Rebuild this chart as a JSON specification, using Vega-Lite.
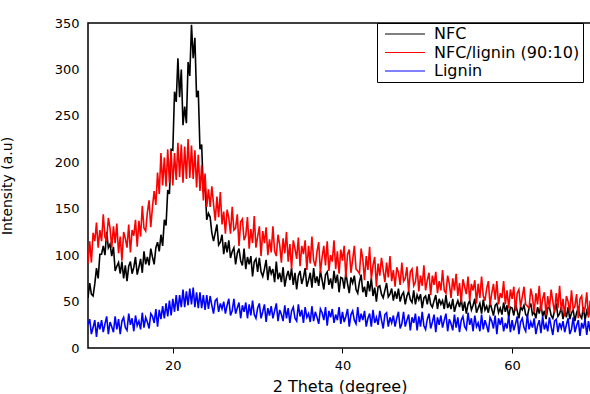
{
"$schema":"https://vega.github.io/schema/vega-lite/v6.json",
"width":503,"height":325,
"autosize":"none",
"padding":{"left":88,"top":23,"right":0,"bottom":46},
"config":{"view":{"stroke":"black","strokeWidth":1.5},"font":"DejaVu Sans"},
"data":{"values":[
{"t":10.0,"a":54,"b":91,"c":25},{"t":10.2,"a":70,"b":115,"c":31},{"t":10.4,"a":58,"b":92,"c":15},{"t":10.6,"a":56,"b":124,"c":22},{"t":10.8,"a":69,"b":115,"c":30},
{"t":11.0,"a":86,"b":135,"c":12},{"t":11.2,"a":75,"b":108,"c":28},{"t":11.4,"a":101,"b":127,"c":20},{"t":11.6,"a":101,"b":115,"c":30},{"t":11.8,"a":110,"b":144,"c":17},
{"t":12.0,"a":100,"b":119,"c":26},{"t":12.2,"a":125,"b":116,"c":34},{"t":12.4,"a":108,"b":140,"c":15},{"t":12.6,"a":112,"b":129,"c":28},{"t":12.8,"a":99,"b":108,"c":23},
{"t":13.0,"a":109,"b":131,"c":17},{"t":13.2,"a":83,"b":113,"c":34},{"t":13.4,"a":88,"b":134,"c":20},{"t":13.6,"a":92,"b":102,"c":31},{"t":13.8,"a":80,"b":120,"c":15},
{"t":14.0,"a":93,"b":94,"c":29},{"t":14.2,"a":75,"b":125,"c":33},{"t":14.4,"a":89,"b":118,"c":22},{"t":14.6,"a":72,"b":108,"c":19},{"t":14.8,"a":88,"b":133,"c":37},
{"t":15.0,"a":93,"b":103,"c":25},{"t":15.2,"a":80,"b":127,"c":32},{"t":15.4,"a":87,"b":121,"c":18},{"t":15.6,"a":98,"b":138,"c":35},{"t":15.8,"a":79,"b":109,"c":24},
{"t":16.0,"a":87,"b":137,"c":29},{"t":16.2,"a":96,"b":120,"c":20},{"t":16.4,"a":81,"b":153,"c":38},{"t":16.6,"a":104,"b":129,"c":22},{"t":16.8,"a":90,"b":126,"c":33},
{"t":17.0,"a":98,"b":146,"c":28},{"t":17.2,"a":89,"b":159,"c":21},{"t":17.4,"a":107,"b":130,"c":37},{"t":17.6,"a":98,"b":152,"c":34},{"t":17.8,"a":90,"b":169,"c":27},
{"t":18.0,"a":108,"b":154,"c":42},{"t":18.2,"a":114,"b":189,"c":23},{"t":18.4,"a":104,"b":166,"c":41},{"t":18.6,"a":122,"b":210,"c":31},{"t":18.8,"a":110,"b":175,"c":45},
{"t":19.0,"a":138,"b":205,"c":32},{"t":19.2,"a":132,"b":174,"c":48},{"t":19.4,"a":170,"b":214,"c":34},{"t":19.6,"a":166,"b":178,"c":51},{"t":19.8,"a":214,"b":212,"c":35},
{"t":20.0,"a":213,"b":175,"c":53},{"t":20.2,"a":276,"b":210,"c":39},{"t":20.4,"a":265,"b":181,"c":57},{"t":20.6,"a":312,"b":221,"c":40},{"t":20.8,"a":270,"b":184,"c":57},
{"t":21.0,"a":300,"b":219,"c":44},{"t":21.2,"a":240,"b":178,"c":63},{"t":21.4,"a":260,"b":217,"c":44},{"t":21.6,"a":242,"b":182,"c":61},{"t":21.8,"a":308,"b":225,"c":46},
{"t":22.0,"a":293,"b":183,"c":64},{"t":22.2,"a":348,"b":218,"c":47},{"t":22.4,"a":312,"b":182,"c":65},{"t":22.6,"a":334,"b":213,"c":44},{"t":22.8,"a":270,"b":173,"c":60},
{"t":23.0,"a":277,"b":208,"c":43},{"t":23.2,"a":214,"b":169,"c":60},{"t":23.4,"a":219,"b":197,"c":43},{"t":23.6,"a":168,"b":159,"c":57},{"t":23.8,"a":175,"b":188,"c":41},
{"t":24.0,"a":138,"b":152,"c":57},{"t":24.2,"a":145,"b":171,"c":42},{"t":24.4,"a":141,"b":152,"c":56},{"t":24.6,"a":124,"b":174,"c":46},{"t":24.8,"a":115,"b":155,"c":37},
{"t":25.0,"a":124,"b":137,"c":51},{"t":25.2,"a":133,"b":163,"c":53},{"t":25.4,"a":111,"b":141,"c":39},{"t":25.6,"a":114,"b":168,"c":48},{"t":25.8,"a":122,"b":133,"c":42},
{"t":26.0,"a":101,"b":147,"c":50},{"t":26.2,"a":114,"b":123,"c":37},{"t":26.4,"a":103,"b":149,"c":46},{"t":26.6,"a":116,"b":140,"c":53},{"t":26.8,"a":97,"b":123,"c":35},
{"t":27.0,"a":104,"b":152,"c":40},{"t":27.2,"a":108,"b":127,"c":53},{"t":27.4,"a":90,"b":129,"c":37},{"t":27.6,"a":102,"b":144,"c":43},{"t":27.8,"a":107,"b":110,"c":49},
{"t":28.0,"a":94,"b":136,"c":32},{"t":28.2,"a":89,"b":139,"c":46},{"t":28.4,"a":107,"b":116,"c":39},{"t":28.6,"a":85,"b":121,"c":49},{"t":28.8,"a":98,"b":141,"c":32},
{"t":29.0,"a":90,"b":107,"c":47},{"t":29.2,"a":99,"b":128,"c":35},{"t":29.4,"a":77,"b":113,"c":51},{"t":29.6,"a":93,"b":142,"c":36},{"t":29.8,"a":96,"b":108,"c":32},
{"t":30.0,"a":82,"b":120,"c":43},{"t":30.2,"a":97,"b":131,"c":48},{"t":30.4,"a":82,"b":99,"c":32},{"t":30.6,"a":77,"b":126,"c":39},{"t":30.8,"a":85,"b":113,"c":47},
{"t":31.0,"a":95,"b":130,"c":28},{"t":31.2,"a":73,"b":100,"c":43},{"t":31.4,"a":88,"b":117,"c":35},{"t":31.6,"a":80,"b":103,"c":45},{"t":31.8,"a":85,"b":131,"c":32},
{"t":32.0,"a":71,"b":104,"c":40},{"t":32.2,"a":93,"b":99,"c":48},{"t":32.4,"a":74,"b":122,"c":29},{"t":32.6,"a":81,"b":111,"c":41},{"t":32.8,"a":71,"b":92,"c":36},
{"t":33.0,"a":87,"b":118,"c":29},{"t":33.2,"a":66,"b":102,"c":46},{"t":33.4,"a":77,"b":125,"c":32},{"t":33.6,"a":83,"b":93,"c":43},{"t":33.8,"a":73,"b":112,"c":27},
{"t":34.0,"a":86,"b":85,"c":40},{"t":34.2,"a":68,"b":116,"c":44},{"t":34.4,"a":81,"b":107,"c":32},{"t":34.6,"a":63,"b":96,"c":29},{"t":34.8,"a":78,"b":119,"c":47},
{"t":35.0,"a":83,"b":88,"c":34},{"t":35.2,"a":69,"b":110,"c":41},{"t":35.4,"a":76,"b":101,"c":27},{"t":35.6,"a":86,"b":116,"c":44},{"t":35.8,"a":66,"b":84,"c":33},
{"t":36.0,"a":73,"b":110,"c":37},{"t":36.2,"a":81,"b":91,"c":28},{"t":36.4,"a":65,"b":120,"c":45},{"t":36.6,"a":86,"b":94,"c":29},{"t":36.8,"a":70,"b":88,"c":39},
{"t":37.0,"a":77,"b":104,"c":33},{"t":37.2,"a":67,"b":114,"c":26},{"t":37.4,"a":83,"b":81,"c":42},{"t":37.6,"a":73,"b":98,"c":38},{"t":37.8,"a":63,"b":110,"c":30},
{"t":38.0,"a":79,"b":89,"c":44},{"t":38.2,"a":82,"b":115,"c":24},{"t":38.4,"a":68,"b":83,"c":40},{"t":38.6,"a":75,"b":100,"c":33},{"t":38.8,"a":64,"b":93,"c":42},
{"t":39.0,"a":83,"b":116,"c":27},{"t":39.2,"a":70,"b":85,"c":36},{"t":39.4,"a":79,"b":104,"c":30},{"t":39.6,"a":60,"b":80,"c":44},{"t":39.8,"a":76,"b":106,"c":26},
{"t":40.0,"a":75,"b":94,"c":39},{"t":40.2,"a":64,"b":110,"c":28},{"t":40.4,"a":81,"b":76,"c":34},{"t":40.6,"a":69,"b":101,"c":42},{"t":40.8,"a":59,"b":106,"c":23},
{"t":41.0,"a":76,"b":81,"c":36},{"t":41.2,"a":70,"b":95,"c":40},{"t":41.4,"a":78,"b":110,"c":30},{"t":41.6,"a":63,"b":85,"c":26},{"t":41.8,"a":59,"b":83,"c":44},
{"t":42.0,"a":71,"b":80,"c":28},{"t":42.2,"a":79,"b":107,"c":37},{"t":42.4,"a":60,"b":95,"c":30},{"t":42.6,"a":66,"b":73,"c":40},{"t":42.8,"a":55,"b":99,"c":23},
{"t":43.0,"a":72,"b":84,"c":32},{"t":43.2,"a":61,"b":109,"c":37},{"t":43.4,"a":75,"b":74,"c":23},{"t":43.6,"a":56,"b":89,"c":41},{"t":43.8,"a":65,"b":98,"c":27},
{"t":44.0,"a":50,"b":66,"c":33},{"t":44.2,"a":66,"b":91,"c":25},{"t":44.4,"a":67,"b":78,"c":40},{"t":44.6,"a":58,"b":97,"c":30},{"t":44.8,"a":54,"b":84,"c":21},
{"t":45.0,"a":62,"b":71,"c":36},{"t":45.2,"a":70,"b":92,"c":38},{"t":45.4,"a":55,"b":76,"c":23},{"t":45.6,"a":58,"b":99,"c":33},{"t":45.8,"a":64,"b":72,"c":27},
{"t":46.0,"a":51,"b":84,"c":35},{"t":46.2,"a":61,"b":66,"c":23},{"t":46.4,"a":53,"b":87,"c":32},{"t":46.6,"a":64,"b":81,"c":39},{"t":46.8,"a":50,"b":68,"c":21},
{"t":47.0,"a":57,"b":92,"c":26},{"t":47.2,"a":60,"b":72,"c":39},{"t":47.4,"a":47,"b":75,"c":23},{"t":47.6,"a":56,"b":87,"c":30},{"t":47.8,"a":61,"b":61,"c":36},
{"t":48.0,"a":52,"b":82,"c":19},{"t":48.2,"a":49,"b":85,"c":33},{"t":48.4,"a":62,"b":67,"c":27},{"t":48.6,"a":47,"b":71,"c":37},{"t":48.8,"a":57,"b":88,"c":19},
{"t":49.0,"a":52,"b":61,"c":34},{"t":49.2,"a":58,"b":78,"c":23},{"t":49.4,"a":43,"b":67,"c":39},{"t":49.6,"a":54,"b":89,"c":24},{"t":49.8,"a":56,"b":62,"c":20},
{"t":50.0,"a":47,"b":73,"c":31},{"t":50.2,"a":58,"b":81,"c":37},{"t":50.4,"a":47,"b":57,"c":21},{"t":50.6,"a":44,"b":78,"c":28},{"t":50.8,"a":51,"b":68,"c":36},
{"t":51.0,"a":57,"b":82,"c":17},{"t":51.2,"a":42,"b":59,"c":33},{"t":51.4,"a":53,"b":72,"c":25},{"t":51.6,"a":47,"b":62,"c":35},{"t":51.8,"a":51,"b":84,"c":22},
{"t":52.0,"a":42,"b":62,"c":30},{"t":52.2,"a":57,"b":59,"c":37},{"t":52.4,"a":43,"b":78,"c":18},{"t":52.6,"a":48,"b":69,"c":31},{"t":52.8,"a":42,"b":54,"c":26},
{"t":53.0,"a":53,"b":75,"c":19},{"t":53.2,"a":39,"b":62,"c":36},{"t":53.4,"a":46,"b":80,"c":22},{"t":53.6,"a":51,"b":56,"c":33},{"t":53.8,"a":44,"b":70,"c":17},
{"t":54.0,"a":53,"b":49,"c":30},{"t":54.2,"a":40,"b":74,"c":34},{"t":54.4,"a":50,"b":66,"c":23},{"t":54.6,"a":37,"b":58,"c":20},{"t":54.8,"a":47,"b":77,"c":38},
{"t":55.0,"a":51,"b":51,"c":25},{"t":55.2,"a":41,"b":69,"c":32},{"t":55.4,"a":46,"b":62,"c":18},{"t":55.6,"a":53,"b":73,"c":35},{"t":55.8,"a":38,"b":48,"c":23},
{"t":56.0,"a":43,"b":69,"c":27},{"t":56.2,"a":48,"b":54,"c":18},{"t":56.4,"a":37,"b":77,"c":36},{"t":56.6,"a":52,"b":56,"c":20},{"t":56.8,"a":41,"b":51,"c":30},
{"t":57.0,"a":45,"b":64,"c":24},{"t":57.2,"a":38,"b":72,"c":17},{"t":57.4,"a":49,"b":46,"c":33},{"t":57.6,"a":42,"b":59,"c":29},{"t":57.8,"a":35,"b":69,"c":21},
{"t":58.0,"a":46,"b":52,"c":35},{"t":58.2,"a":48,"b":72,"c":15},{"t":58.4,"a":38,"b":47,"c":32},{"t":58.6,"a":43,"b":59,"c":25},{"t":58.8,"a":36,"b":54,"c":33},
{"t":59.0,"a":49,"b":72,"c":18},{"t":59.2,"a":39,"b":47,"c":27},{"t":59.4,"a":46,"b":62,"c":21},{"t":59.6,"a":33,"b":43,"c":35},{"t":59.8,"a":44,"b":63,"c":17},
{"t":60.0,"a":43,"b":53,"c":30},{"t":60.2,"a":35,"b":66,"c":19},{"t":60.4,"a":48,"b":40,"c":26},{"t":60.6,"a":40,"b":59,"c":34},{"t":60.8,"a":32,"b":63,"c":15},
{"t":61.0,"a":44,"b":44,"c":28},{"t":61.2,"a":41,"b":55,"c":32},{"t":61.4,"a":46,"b":66,"c":22},{"t":61.6,"a":36,"b":47,"c":18},{"t":61.8,"a":34,"b":45,"c":36},
{"t":62.0,"a":43,"b":43,"c":20},{"t":62.2,"a":48,"b":64,"c":28},{"t":62.4,"a":36,"b":55,"c":22},{"t":62.6,"a":39,"b":38,"c":32},{"t":62.8,"a":32,"b":59,"c":15},
{"t":63.0,"a":44,"b":47,"c":24},{"t":63.2,"a":37,"b":67,"c":30},{"t":63.4,"a":47,"b":40,"c":16},{"t":63.6,"a":34,"b":53,"c":34},{"t":63.8,"a":40,"b":60,"c":20},
{"t":64.0,"a":31,"b":35,"c":26},{"t":64.2,"a":43,"b":56,"c":18},{"t":64.4,"a":44,"b":43,"c":33},{"t":64.6,"a":35,"b":63,"c":23},{"t":64.8,"a":32,"b":50,"c":14},
{"t":65.0,"a":40,"b":38,"c":29},{"t":65.2,"a":48,"b":59,"c":31},{"t":65.4,"a":34,"b":43,"c":17},{"t":65.6,"a":37,"b":67,"c":27},{"t":65.8,"a":44,"b":40,"c":21},
{"t":66.0,"a":31,"b":53,"c":29},{"t":66.2,"a":41,"b":34,"c":17},{"t":66.4,"a":33,"b":56,"c":25},{"t":66.6,"a":44,"b":50,"c":32},{"t":66.8,"a":31,"b":38,"c":15},
{"t":67.0,"a":38,"b":62,"c":20},{"t":67.2,"a":41,"b":42,"c":33},{"t":67.4,"a":29,"b":45,"c":17},{"t":67.6,"a":38,"b":58,"c":24},{"t":67.8,"a":43,"b":32,"c":30},
{"t":68.0,"a":35,"b":53,"c":13},{"t":68.2,"a":32,"b":56,"c":27},{"t":68.4,"a":44,"b":38,"c":21},{"t":68.6,"a":30,"b":43,"c":31},{"t":68.8,"a":40,"b":60,"c":14},
{"t":69.0,"a":35,"b":33,"c":29},{"t":69.2,"a":42,"b":51,"c":18}
]},
"transform":[{"fold":["a","b","c"],"as":["k","v"]}],
"mark":{"type":"line","strokeWidth":1.6,"clip":true},
"encoding":{
"x":{"field":"t","type":"quantitative","scale":{"domain":[10,69.3],"nice":false,"zero":false},
 "axis":{"values":[20,40,60],"title":"2 Theta (degree)","grid":false,"domain":false,"tickSize":5,"tickColor":"black","labelFontSize":13,"labelColor":"black","labelPadding":6,"titleFontSize":16,"titleFontWeight":"normal","titleColor":"black","titlePadding":6}},
"y":{"field":"v","type":"quantitative","scale":{"domain":[0,350],"nice":false},
 "axis":{"values":[0,50,100,150,200,250,300,350],"title":"Intensity (a.u)","grid":false,"domain":false,"tickSize":0,"labelFontSize":13,"labelColor":"black","labelPadding":9,"titleFontSize":14,"titleFontWeight":"normal","titleColor":"black","titlePadding":40}},
"color":{"field":"k","type":"nominal","scale":{"domain":["a","b","c"],"range":["#000000","#ff0000","#0000ff"]},
 "legend":{"title":null,"orient":"none","legendX":289,"legendY":0,"strokeColor":"black","fillColor":"white","padding":3,"symbolType":"M-4,0H4","symbolSize":100,"symbolStrokeWidth":1,"symbolOffset":17,"labelOffset":21,"labelFontSize":16,"labelColor":"black","rowPadding":2.5,
 "labelExpr":"datum.label == 'a' ? 'NFC' : datum.label == 'b' ? 'NFC/lignin (90:10)' : 'Lignin'"}}
}
}
